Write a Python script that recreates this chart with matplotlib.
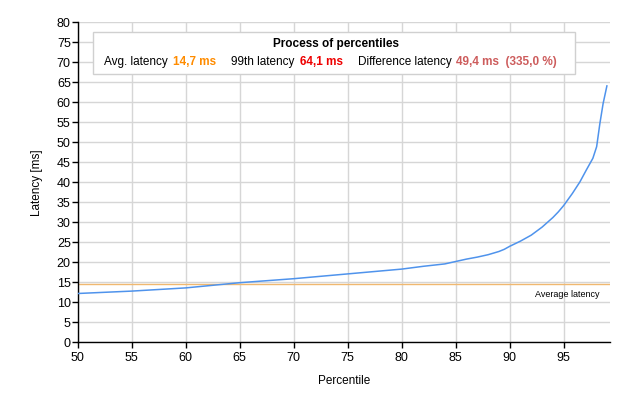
import matplotlib
matplotlib.use("Agg")
import matplotlib.pyplot as plt

percentiles = [50, 55, 60, 65, 70, 75, 80, 82, 84, 85, 86, 87, 88, 89, 89.5, 90, 91, 92, 93, 94,
               94.5, 95, 95.8, 96.5, 97.1, 97.7, 98.05, 98.35, 98.65, 99]
latency = [12.2, 12.8, 13.6, 14.9, 15.9, 17.1, 18.3, 19.0, 19.6, 20.2, 20.8, 21.3, 21.9, 22.7, 23.25,
           24.0, 25.3, 26.8, 28.8, 31.2, 32.6, 34.2, 37.2, 40.1, 43.1, 46.0, 48.9, 54.7, 59.7, 64.1]
avg_latency = 14.7
x_ticks = [50, 55, 60, 65, 70, 75, 80, 85, 90, 95]
y_ticks = list(range(0, 85, 5))

plt.rcParams['font.family'] = ['Liberation Sans', 'DejaVu Sans']

W, H = 628, 404
fig = plt.figure(figsize=(W / 100, H / 100), dpi=100)
left, right, bottom, top = 77.7, 610, 342.3, 22.3
ax = fig.add_axes([left / W, 1 - bottom / H, (right - left) / W, (bottom - top) / H])

ax.plot(percentiles, latency, color='#4F93EC', lw=1.1, zorder=3)
ax.axhline(avg_latency, color='#F0B870', lw=1.0, zorder=2)
ax.text(98.3, avg_latency - 1.7, 'Average latency', fontsize=6.5, ha='right', va='top', color='black')

ax.set_xlim(50, 50 + (right - left) / 10.8)
ax.set_ylim(0, 80)
ax.set_xticks(x_ticks)
ax.set_yticks(y_ticks)
ax.grid(True, color='#D6D6D6', lw=1)
ax.set_axisbelow(True)
for s in ['top', 'right']:
    ax.spines[s].set_visible(False)
for s in ['left', 'bottom']:
    ax.spines[s].set_color('black')
    ax.spines[s].set_linewidth(1)
ax.tick_params(axis='both', labelsize=9, length=4, width=1, colors='black', pad=1)
ax.tick_params(axis='x', pad=3)
ax.set_xlabel('Percentile', fontsize=8.5, labelpad=8)
ax.set_ylabel('Latency [ms]', fontsize=8.5, labelpad=10)

# Legend/info box
box_l, box_r, box_t, box_b = 93, 575, 32, 74
fig.patches.append(plt.Rectangle((box_l / W, 1 - box_b / H), (box_r - box_l) / W, (box_b - box_t) / H,
                                 transform=fig.transFigure, facecolor='white', edgecolor='#D0D0D0',
                                 lw=1, zorder=5))
fig.text(336 / W, 1 - 44 / H, 'Process of percentiles', fontsize=8.5, fontweight='bold',
         ha='center', va='center', zorder=6)
parts = [
    (104, 'Avg. latency', 'black', 'normal'),
    (173, '14,7 ms', '#FF8C00', 'bold'),
    (231, '99th latency', 'black', 'normal'),
    (300, '64,1 ms', '#EE0000', 'bold'),
    (358, 'Difference latency', 'black', 'normal'),
    (456, '49,4 ms  (335,0 %)', '#CD5C5C', 'bold'),
]
for xp, txt, col, fw in parts:
    fig.text(xp / W, 1 - 62 / H, txt, fontsize=8.5, color=col, fontweight=fw,
             ha='left', va='center', zorder=6)

fig.savefig('out.png', dpi=100)
